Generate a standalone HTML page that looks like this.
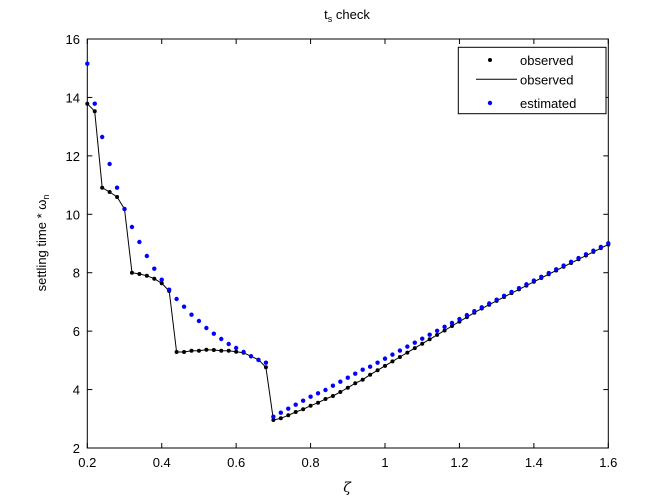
<!DOCTYPE html>
<html><head><meta charset="utf-8"><style>
body{margin:0;background:#fff;}
svg{display:block;font-family:"Liberation Sans",Arial,sans-serif;}
</style></head><body>
<svg id="s" width="672" height="502" viewBox="0 0 672 502" xmlns="http://www.w3.org/2000/svg">
<rect width="672" height="502" fill="#fff"/>
<rect x="87.3" y="39" width="521" height="409" fill="#fff" stroke="#000" stroke-width="1"/>
<g id="ticks" stroke="#000" stroke-width="1"></g>
<g id="labels" font-size="13" fill="#000"></g>
<g id="data"></g>
<text x="347" y="19" font-size="13" text-anchor="middle">t<tspan font-size="9" dy="3">s</tspan><tspan dy="-3"> check</tspan></text>
<text x="347" y="492" font-size="14" text-anchor="middle" font-family="'DejaVu Serif',serif" font-style="italic">ζ</text>
<text transform="translate(46,243) rotate(-90)" font-size="13" text-anchor="middle">settling time * ω<tspan font-size="9" dy="3">n</tspan></text>
<rect x="458.3" y="47.3" width="147.7" height="66.4" fill="#fff" stroke="#000"/>
<circle cx="490" cy="60" r="2" fill="#000"/>
<line x1="476" y1="79.3" x2="517" y2="79.3" stroke="#000"/>
<circle cx="490" cy="103" r="2.2" fill="#00f"/>
<text x="520" y="65" font-size="13">observed</text>
<text x="520" y="84.3" font-size="13">observed</text>
<text x="520" y="108" font-size="13">estimated</text>
</svg>
<script>
const NS="http://www.w3.org/2000/svg";
const X0=87.3,X1=608.3,Y0=39,Y1=448;
const px=z=>X0+(z-0.2)/1.4*(X1-X0);
const py=v=>Y0+(16-v)/14*(Y1-Y0);
const T=document.getElementById('ticks'),L=document.getElementById('labels'),D=document.getElementById('data');
function el(tag,a,p){const e=document.createElementNS(NS,tag);for(const k in a)e.setAttribute(k,a[k]);p.appendChild(e);return e;}
for(let i=0;i<=7;i++){const z=0.2+i*0.2,x=px(z);
 el('line',{x1:x,y1:Y1,x2:x,y2:Y1-5},T);el('line',{x1:x,y1:Y0,x2:x,y2:Y0+5},T);
 const t=el('text',{x:x,y:467,'text-anchor':'middle'},L);t.textContent=(Math.round(z*10)/10).toString();}
for(let v=2;v<=16;v+=2){const y=py(v);
 el('line',{x1:X0,y1:y,x2:X0+5,y2:y},T);el('line',{x1:X1,y1:y,x2:X1-5,y2:y},T);
 const t=el('text',{x:80,y:y+5,'text-anchor':'end'},L);t.textContent=v;}
// pixel y values, zeta 0.20..0.96
const blueA=[63.7,103.7,137,164,187.7,209,227,242,256,268.7,279.7,289.7,299,306.7,314.7,321,328,333.7,339,344,348,352,356.3,360,362.7,416.7,412.7,408.7,404.7,400.7,396.7,393.3,390,385.7,381.7,377.7,373.7,369.7,366.7];
const blackA=[103.7,111.3,187.7,192,197,209,272.7,274,275.7,278.7,283.3,291,352,352,350.7,350.7,349.7,350,350.7,350.7,351.7,352.7,356.3,359.7,367.3,420,418.3,415.3,412,409.3,405.7,402.7,399,396,392,387.7,383.3,379.7,374.7];
const zs=[],B=[],K=[];
for(let i=0;i<=70;i++){const z=0.2+i*0.02;zs.push(z);
 if(i<blueA.length){B.push(blueA[i]);K.push(blackA[i]);}
 else{const t=(z-0.96)/0.64;
  // blue: smooth from 366.7 to 243.3 with decreasing slope
  const b=366.7-123.4*t-8*t*(1-t)*1.0+0*t;B.push(366.7+( -3.86*0.5*1.03)*0 + (243.3-366.7)*t - 6*t*(1-t));
  let k;const zm=1.24;
  if(z<=zm){const s=(z-0.96)/(zm-0.96);const bm=366.7+(243.3-366.7)*((zm-0.96)/0.64)-6*((zm-0.96)/0.64)*(1-(zm-0.96)/0.64);k=374.7+(bm+1.5-374.7)*s;}
  else{k=B[B.length-1]+1.2;}
  K.push(k);}
}
let d='';zs.forEach((z,i)=>{d+=(i?'L':'M')+px(z).toFixed(1)+' '+K[i].toFixed(1);});
el('path',{d:d,fill:'none',stroke:'#000','stroke-width':1},D);
zs.forEach((z,i)=>el('circle',{cx:px(z),cy:K[i],r:2,fill:'#000'},D));
zs.forEach((z,i)=>el('circle',{cx:px(z),cy:B[i],r:2.2,fill:'#00f'},D));
</script>
</body></html>
